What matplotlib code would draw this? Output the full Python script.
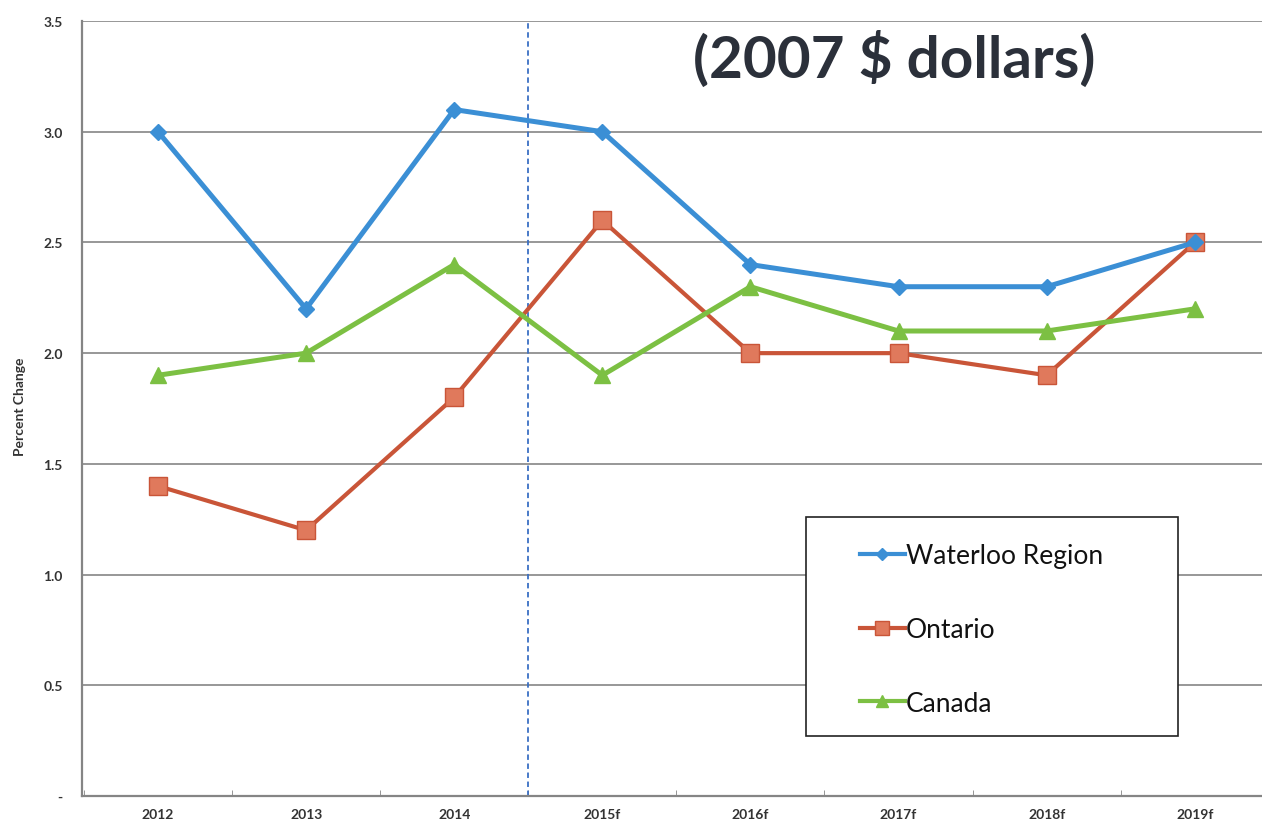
import matplotlib
matplotlib.use("Agg")
import matplotlib.pyplot as plt
from matplotlib.ticker import FixedLocator
from matplotlib.patches import Rectangle

years = ["2012", "2013", "2014", "2015f", "2016f", "2017f", "2018f", "2019f"]
waterloo = [3.0, 2.2, 3.1, 3.0, 2.4, 2.3, 2.3, 2.5]
ontario = [1.4, 1.2, 1.8, 2.6, 2.0, 2.0, 1.9, 2.5]
canada = [1.9, 2.0, 2.4, 1.9, 2.3, 2.1, 2.1, 2.2]
y_ticks = [0.0, 0.5, 1.0, 1.5, 2.0, 2.5, 3.0, 3.5]
y_tick_labels = ["-", "0.5", "1.0", "1.5", "2.0", "2.5", "3.0", "3.5"]
forecast_split = 2.5  # boundary between actual and forecast years

plt.rcParams["font.family"] = ["Lato", "DejaVu Sans"]

W, H = 1262, 829
fig = plt.figure(figsize=(W / 100, H / 100), dpi=100)
left, right, top, bottom = 82, 1262, 22, 797
ax = fig.add_axes([left / W, 1 - bottom / H, (right - left) / W, (bottom - top) / H])

x = list(range(len(years)))
grid_c = "#858585"
for yv in y_ticks[1:]:
    ax.axhline(yv, color=grid_c, lw=1.2, zorder=1)

ax.axvline(forecast_split, color="#3a6fc4", lw=1.3, ls=(0, (3, 2)), zorder=2)

ax.plot(x, waterloo, color="#3b8fd5", lw=3.6, marker="D", ms=8,
        mfc="#3b8fd5", mec="#3b8fd5", label="Waterloo Region", zorder=4)
ax.plot(x, ontario, color="#c95538", lw=3.0, marker="s", ms=13,
        mfc="#e0795c", mec="#c95538", mew=1.0, label="Ontario", zorder=3)
ax.plot(x, canada, color="#7cc043", lw=3.6, marker="^", ms=12,
        mfc="#7cc043", mec="#7cc043", label="Canada", zorder=3)

ax.set_xlim(-0.513, 7.454)
ax.set_ylim(0, 3.5)
ax.set_xticks(x)
ax.set_xticklabels(years, fontsize=10, fontweight="bold", color="#333333")
ax.xaxis.set_minor_locator(FixedLocator([i + 0.5 for i in range(-1, 8)]))
ax.tick_params(axis="x", which="major", length=0, pad=9)
ax.tick_params(axis="x", which="minor", direction="in", length=4, color=grid_c)
ax.set_yticks(y_ticks)
ax.set_yticklabels(y_tick_labels, fontsize=10, fontweight="bold", color="#333333")
ax.tick_params(axis="y", length=0, pad=14)

for s in ["top", "right"]:
    ax.spines[s].set_visible(False)
for s in ["left", "bottom"]:
    ax.spines[s].set_color(grid_c)
    ax.spines[s].set_linewidth(1.6)

fig.text(20 / W, 1 - 407 / H, "Percent Change", rotation=90, fontsize=10,
         fontweight="bold", color="#333333", ha="center", va="center")

fig.text(894 / W, 1 - 59 / H, "(2007 $ dollars)", fontsize=42, fontweight="bold",
         color="#2b303a", ha="center", va="center")

# legend frame and entries
ax.add_patch(Rectangle((806 / W, 1 - 737 / H), (1178 - 806) / W, (737 - 518) / H,
                       transform=fig.transFigure, facecolor="white",
                       edgecolor="#222222", lw=1.2, zorder=5, clip_on=False))
leg = ax.legend(loc="upper left",
                bbox_to_anchor=((860 - left) / (right - left), 1 - (544 - top) / (bottom - top)),
                frameon=False, fontsize=19, handlelength=1.7,
                handletextpad=0.05, labelspacing=1.85, borderpad=0,
                borderaxespad=0, markerscale=0.75)
for t in leg.get_texts():
    t.set_color("#111111")
for ln in leg.get_lines():
    ln.set_linewidth(3.0)
leg.set_zorder(6)

fig.savefig("out.png", dpi=100)
